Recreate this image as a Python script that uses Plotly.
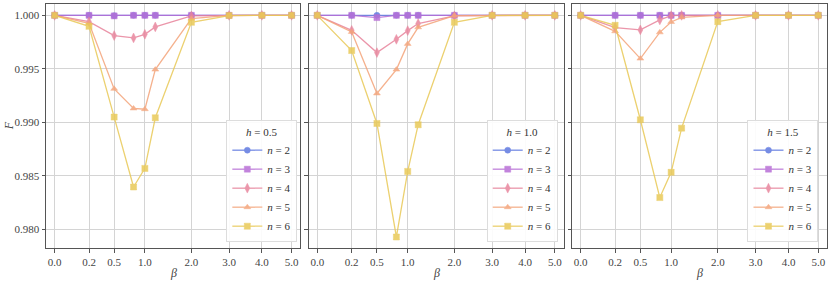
import plotly.graph_objects as go

beta = [0.0, 0.2, 0.5, 0.8, 1.0, 1.2, 2.0, 3.0, 4.0, 5.0]
tick_beta = [0.0, 0.2, 0.5, 1.0, 2.0, 3.0, 4.0, 5.0]
tick_text = ["0.0", "0.2", "0.5", "1.0", "2.0", "3.0", "4.0", "5.0"]
y_ticks = [0.980, 0.985, 0.990, 0.995, 1.000]
h_values = ["0.5", "1.0", "1.5"]
n_values = [2, 3, 4, 5, 6]

# h = 0.5
h05_n2 = [1.0, 1.0, 0.99997, 1.0, 1.0, 1.0, 1.0, 1.0, 1.0, 1.0]
h05_n3 = [1.0, 1.0, 0.99995, 1.0, 1.0, 1.0, 1.0, 1.0, 1.0, 1.0]
h05_n4 = [1.0, 0.99941, 0.99811, 0.99789, 0.99823, 0.99892, 0.99995, 1.0, 1.0, 1.0]
h05_n5 = [1.0, 0.99925, 0.99313, 0.99130, 0.99123, 0.99493, 0.99969, 1.0, 1.0, 1.0]
h05_n6 = [1.0, 0.99897, 0.99049, 0.98396, 0.98570, 0.99043, 0.99935, 0.99998, 1.0, 1.0]
# h = 1.0
h10_n2 = [1.0, 1.0, 1.0, 1.0, 1.0, 1.0, 1.0, 1.0, 1.0, 1.0]
h10_n3 = [1.0, 1.0, 0.99979, 1.0, 1.0, 1.0, 1.0, 1.0, 1.0, 1.0]
h10_n4 = [1.0, 0.99860, 0.99652, 0.99776, 0.99857, 0.99923, 0.99995, 1.0, 1.0, 1.0]
h10_n5 = [1.0, 0.99845, 0.99270, 0.99493, 0.99733, 0.99888, 0.99997, 1.0, 1.0, 1.0]
h10_n6 = [1.0, 0.99671, 0.98990, 0.97929, 0.98542, 0.98978, 0.99935, 1.0, 1.0, 1.0]
# h = 1.5
h15_n2 = [1.0, 1.0, 1.0, 1.0, 1.0, 1.0, 1.0, 1.0, 1.0, 1.0]
h15_n3 = [1.0, 1.0, 1.0, 1.0, 1.0, 1.0, 1.0, 1.0, 1.0, 1.0]
h15_n4 = [1.0, 0.99885, 0.99864, 0.99957, 0.99997, 1.0, 1.0, 1.0, 1.0, 1.0]
h15_n5 = [1.0, 0.99851, 0.99596, 0.99841, 0.99938, 0.99981, 1.0, 1.0, 1.0, 1.0]
h15_n6 = [1.0, 0.99907, 0.99024, 0.98297, 0.98533, 0.98946, 0.99941, 1.0, 1.0, 1.0]

panels = [
    [h05_n2, h05_n3, h05_n4, h05_n5, h05_n6],
    [h10_n2, h10_n3, h10_n4, h10_n5, h10_n6],
    [h15_n2, h15_n3, h15_n4, h15_n5, h15_n6],
]

colors = ["#5f78e0", "#b86ed6", "#e8849c", "#f4a47a", "#e9c957"]
symbols = ["circle", "square", "diamond-tall", "triangle-up", "square-x"]

POW = 0.6
xt = [b ** POW for b in beta]
tick_pos = [b ** POW for b in tick_beta]

FONT = "Liberation Serif"
fig = go.Figure()

domains = [(0.0, 0.3256), (0.3362, 0.6627), (0.6735, 1.0)]
legend_x = [0.3218, 0.6552, 0.9891]

for p, series in enumerate(panels):
    sfx = "" if p == 0 else str(p + 1)
    for i, ys in enumerate(series):
        fig.add_trace(go.Scatter(
            x=xt, y=ys, mode="lines+markers",
            name=f"<i>n</i> = {n_values[i]}",
            line=dict(color=colors[i], width=1.3),
            marker=dict(symbol=symbols[i], size=6 if symbols[i] != "diamond-tall" else 7,
                        color=colors[i], line=dict(width=0.5, color=colors[i])),
            opacity=0.85,
            xaxis="x" + sfx, yaxis="y" + sfx,
            legend="legend" + sfx,
        ))

annotations = []
layout = dict(
    width=831, height=281,
    margin=dict(l=46, r=4, t=4, b=33),
    plot_bgcolor="white", paper_bgcolor="white",
    font=dict(family=FONT, size=11, color="#333333"),
    showlegend=True,
)
for p in range(3):
    sfx = "" if p == 0 else str(p + 1)
    layout["xaxis" + sfx] = dict(
        domain=list(domains[p]), anchor="y" + sfx,
        range=[-0.096, 2.723],
        tickvals=tick_pos, ticktext=tick_text,
        showgrid=True, gridcolor="#d4d4d4", gridwidth=1,
        showline=True, linecolor="#555555", linewidth=1, mirror=True,
        ticks="outside", ticklen=3.5, tickcolor="#555555",
        zeroline=False,
        tickfont=dict(family=FONT, size=11, color="#444444"),
    )
    layout["yaxis" + sfx] = dict(
        domain=[0, 1], anchor="x" + sfx,
        range=[0.97826, 1.00106],
        tickvals=y_ticks, ticktext=[f"{v:.3f}" for v in y_ticks],
        showticklabels=(p == 0),
        showgrid=True, gridcolor="#d4d4d4", gridwidth=1,
        showline=True, linecolor="#555555", linewidth=1, mirror=True,
        ticks="outside", ticklen=3.5, tickcolor="#555555",
        zeroline=False,
        tickfont=dict(family=FONT, size=11, color="#444444"),
    )
    layout["legend" + sfx] = dict(
        x=legend_x[p], y=0.023, xanchor="right", yanchor="bottom",
        bgcolor="rgba(255,255,255,0.9)", bordercolor="#dddddd", borderwidth=1,
        font=dict(family=FONT, size=11, color="#333333"),
        title=dict(text=f"<i>h</i> = {h_values[p]}", side="top center",
                   font=dict(family=FONT, size=11, color="#333333")),
        itemwidth=30, tracegroupgap=0,
    )
    annotations.append(dict(
        text="<i>β</i>", xref="x" + sfx + " domain", yref="paper",
        x=0.5, y=-0.065, xanchor="center", yanchor="top", showarrow=False,
        font=dict(family=FONT, size=12, color="#444444"),
    ))

annotations.append(dict(
    text="<i>F</i>", xref="paper", yref="paper", x=-0.047, y=0.5,
    xanchor="center", yanchor="middle", textangle=-90, showarrow=False,
    font=dict(family=FONT, size=12, color="#444444"),
))
layout["annotations"] = annotations

fig.update_layout(**layout)
fig.write_html("out.html", config={"displayModeBar": False},
               post_script="document.body.style.margin='0';document.body.style.padding='0';")
